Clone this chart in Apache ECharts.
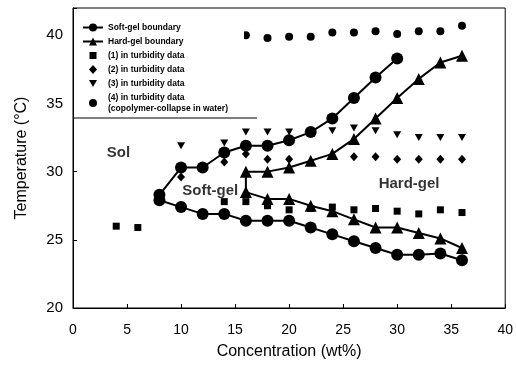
<!DOCTYPE html>
<html><head><meta charset="utf-8">
<script src="https://cdn.jsdelivr.net/npm/echarts@6/dist/echarts.min.js"></script>
<style>html,body{margin:0;padding:0;background:#fff}#c{width:516px;height:365px}</style>
</head><body><div id="c"></div>
<script>
// ---- data ----
var softUpperX = [8,10,12,14,16,18,20,22,24,26,28,30];
var softUpperY = [28.3,30.3,30.3,31.4,31.9,31.9,32.3,32.9,33.9,35.4,36.9,38.3];
var softLowerX = [8,10,12,14,16,18,20,22,24,26,28,30,32,34,36];
var softLowerY = [27.9,27.4,26.9,26.9,26.4,26.4,26.4,25.9,25.4,24.9,24.4,23.9,23.9,24.0,23.5];
var hardUpperX = [16,18,20,22,24,26,28,30,32,34,36];
var hardUpperY = [30.0,30.0,30.3,30.8,31.3,32.4,33.9,35.4,36.8,38.0,38.5];
var hardLowerX = [16,18,20,22,24,26,28,30,32,34,36];
var hardLowerY = [28.5,28.0,28.0,27.5,27.1,26.5,25.9,25.9,25.5,25.1,24.4];
var turb1X = [4,6,14,16,18,20,22,24,26,28,30,32,34,36];
var turb1Y = [26.0,25.9,27.8,27.8,27.5,27.2,27.3,27.4,27.2,27.3,27.1,26.9,27.2,27.0];
var turb2X = [10,14,16,18,20,26,28,30,32,34,36];
var turb2Y = [29.6,30.7,31.3,30.9,30.9,31.1,31.1,30.9,30.9,30.9,30.9];
var turb3X = [10,14,16,18,20,22,24,26,28,30,32,34,36];
var turb3Y = [31.9,32.1,32.9,32.9,32.9,32.9,33.0,33.2,33.0,32.7,32.5,32.5,32.5];
var turb4X = [16,18,20,22,24,26,28,30,32,34,36];
var turb4Y = [40.0,39.8,39.9,39.9,40.2,40.2,40.3,40.1,40.3,40.3,40.7];
var regionNames = ['Sol','Soft-gel','Hard-gel'];
var regionX = [4.2,12.7,31.1];
var regionY = [31.4,28.6,29.1];
var seriesNames = ['Soft-gel boundary','Hard-gel boundary','(1) in turbidity data','(2) in turbidity data','(3) in turbidity data','(4) in turbidity data'];
var xTicks = [0,5,10,15,20,25,30,35,40];
var yTicks = [20,25,30,35,40];

function pairs(xs, ys){ return xs.map(function(x,i){ return [x, ys[i]]; }); }
var softLine = pairs(softUpperX, softUpperY).reverse().concat(pairs(softLowerX, softLowerY));
var hardLine = pairs(hardUpperX, hardUpperY).reverse().concat(pairs(hardLowerX, hardLowerY));

var FONT = 'Liberation Sans, Arial, sans-serif';
var chart = echarts.init(document.getElementById('c'), null, {renderer:'canvas'});
var downTri = 'path://M0,0 L10,0 L5,9 Z';
var BOX = 'M0,0 M20,10 ';
var legendIcons = [
  null, null,
  'path://' + BOX + 'M6.5,1.5 L13.5,1.5 L13.5,8.5 L6.5,8.5 Z',
  'path://' + BOX + 'M10,0.5 L14,5 L10,9.5 L6,5 Z',
  'path://' + BOX + 'M6,1.5 L14,1.5 L10,8.5 Z',
  'path://' + BOX + 'M6,5 A4,4 0 1,0 14,5 A4,4 0 1,0 6,5 Z'
];
var dotStyle = {color:'#000', opacity:1};
chart.setOption({
  backgroundColor: '#fff',
  animation: false,
  grid: {left:73, right:10, top:8, bottom:57, show:true, borderColor:'#000', borderWidth:1},
  xAxis: {type:'value', min:xTicks[0], max:xTicks[xTicks.length-1], interval:5,
    name:'Concentration (wt%)', nameLocation:'middle', nameGap:36,
    nameTextStyle:{fontFamily:FONT, fontSize:16, color:'#000'},
    axisLine:{lineStyle:{color:'#000', width:1}},
    axisTick:{inside:true, length:4, lineStyle:{color:'#000'}},
    axisLabel:{fontFamily:FONT, fontSize:14, color:'#000', margin:15},
    splitLine:{show:false}},
  yAxis: {type:'value', min:yTicks[0], max:42, interval:5,
    name:'Temperature (°C)', nameLocation:'middle', nameGap:43,
    nameTextStyle:{fontFamily:FONT, fontSize:16, color:'#000'},
    axisLine:{lineStyle:{color:'#000', width:1}},
    axisTick:{inside:true, length:4, lineStyle:{color:'#000'}},
    axisLabel:{fontFamily:FONT, fontSize:15, color:'#000', margin:10,
      formatter:function(v){ return yTicks.indexOf(v) >= 0 ? String(v) : ''; }},
    splitLine:{show:false}},
  legend: {orient:'vertical', left:82, top:22, padding:0, itemWidth:20, itemHeight:10, itemGap:3,
    z:10,
    data: seriesNames.map(function(n,i){ return legendIcons[i] ? {name:n, icon:legendIcons[i]} : {name:n}; }),
    textStyle:{fontFamily:FONT, fontSize:8.5, fontWeight:'bold', color:'#000', lineHeight:11},
    formatter:function(n){ return n === seriesNames[5] ? n + '\n(copolymer-collapse in water)' : n; }},
  graphic: [
    {type:'rect', z:5, shape:{x:74, y:9, width:170, height:109}, style:{fill:'#fff'}},
    {type:'line', z:6, shape:{x1:73, y1:118, x2:257, y2:118}, style:{stroke:'#000', lineWidth:1}}
  ],
  series: [
    {name:seriesNames[0], type:'line', data:softLine, symbol:'circle', symbolSize:12, z:4,
      itemStyle:dotStyle, lineStyle:{color:'#000', width:2}},
    {name:seriesNames[1], type:'line', data:hardLine, symbol:'triangle', symbolSize:12, z:4,
      itemStyle:dotStyle, lineStyle:{color:'#000', width:2}},
    {name:seriesNames[2], type:'scatter', data:pairs(turb1X, turb1Y), symbol:'rect', symbolSize:7, z:3, itemStyle:dotStyle},
    {name:seriesNames[3], type:'scatter', data:pairs(turb2X, turb2Y), symbol:'diamond', symbolSize:[8,9], z:3, itemStyle:dotStyle},
    {name:seriesNames[4], type:'scatter', data:pairs(turb3X, turb3Y), symbol:downTri, symbolSize:[8,7], z:3, itemStyle:dotStyle},
    {name:seriesNames[5], type:'scatter', data:pairs(turb4X, turb4Y), symbol:'circle', symbolSize:8, z:3, itemStyle:dotStyle},
    {name:'regions', type:'scatter', symbolSize:0, z:3, silent:true,
      data: regionNames.map(function(n,i){ return {value:[regionX[i], regionY[i]], name:n}; }),
      label:{show:true, position:'inside', formatter:'{b}', fontFamily:FONT, fontSize:15, fontWeight:'bold', color:'#000'}}
  ]
});
</script>
</body></html>
